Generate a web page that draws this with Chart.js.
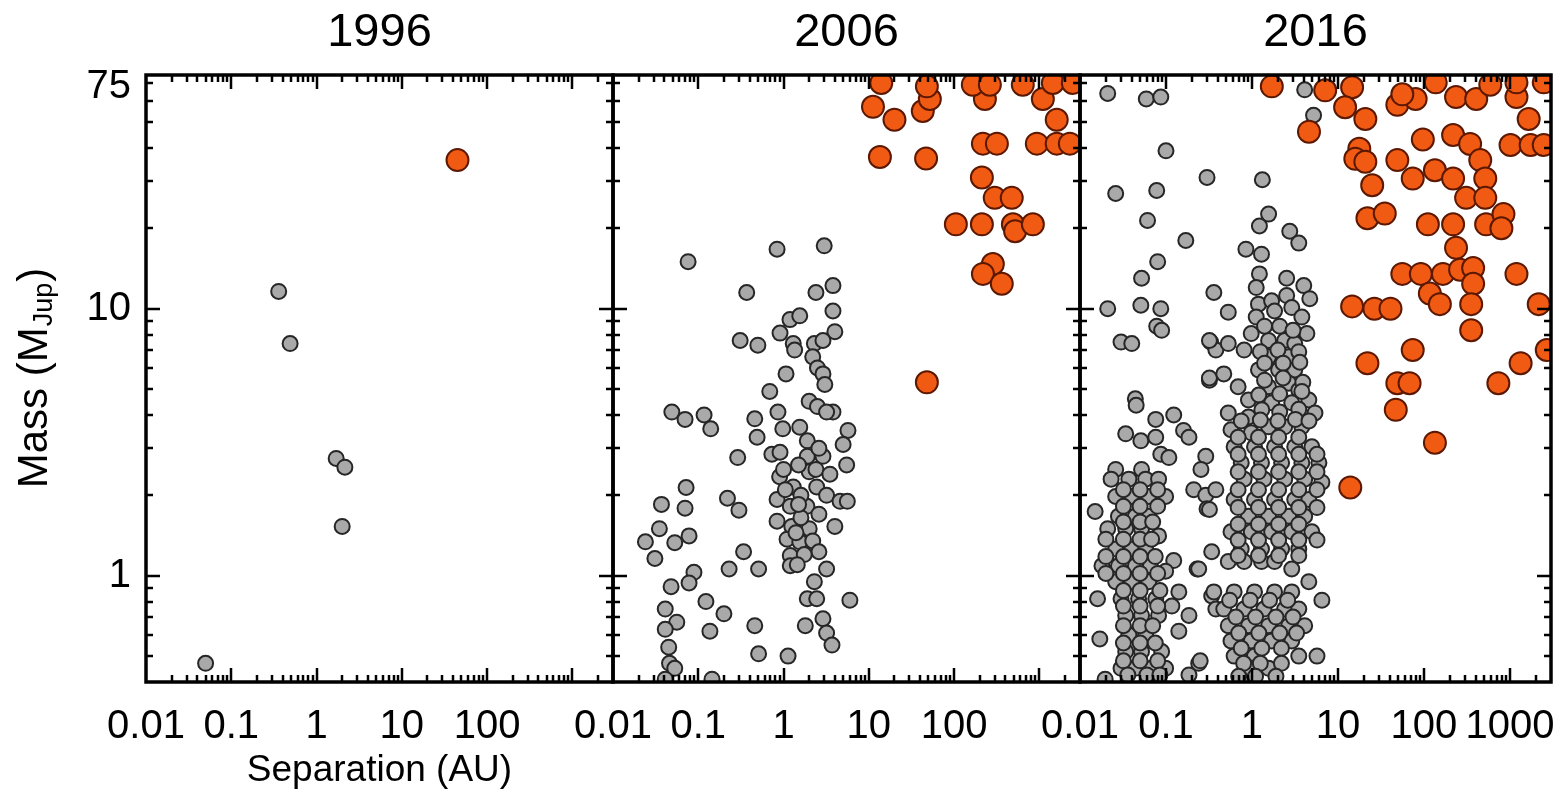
<!DOCTYPE html>
<html>
<head>
<meta charset="utf-8">
<title>Mass vs separation, 1996 / 2006 / 2016</title>
<script src="https://cdn.jsdelivr.net/npm/chart.js@4.4.0/dist/chart.umd.min.js"></script>
<style>
  html, body { margin: 0; padding: 0; background: #fff; }
  #wrap { position: relative; width: 1568px; height: 798px; }
  #wrap canvas { position: absolute; left: 0; top: 0; }
</style>
</head>
<body>
<div id="wrap">
  <canvas id="c1996" width="1568" height="798"></canvas>
  <canvas id="c2006" width="1568" height="798"></canvas>
  <canvas id="c2016" width="1568" height="798"></canvas>
</div>
<script>
// [separation (AU), mass (M_Jup)]
var grey1996 = [[0.05, 0.47], [0.36, 11.6], [0.49, 7.4], [1.7, 2.75], [2.15, 2.55], [2.0, 1.53]];
var orange1996 = [[45, 36]];

var grey2006 = [
  [0.049, 4.1], [0.07, 3.85], [0.117, 4.0], [0.14, 3.55], [0.46, 3.87], [0.49, 3.3], [0.29, 2.77],
  [0.072, 2.14], [0.037, 1.85], [0.07, 1.79], [0.22, 1.95], [0.3, 1.76], [0.035, 1.5], [0.024, 1.34],
  [0.031, 1.16], [0.053, 1.33], [0.078, 1.41], [0.34, 1.23], [0.23, 1.06], [0.51, 1.06], [0.048, 0.91],
  [0.089, 1.03], [0.078, 0.94], [0.123, 0.8], [0.2, 0.72], [0.137, 0.62], [0.041, 0.75], [0.056, 0.67],
  [0.041, 0.63], [0.045, 0.54], [0.046, 0.47], [0.053, 0.45], [0.46, 0.65], [0.51, 0.51], [0.145, 0.41],
  [0.041, 0.41],
  [0.076, 15], [0.84, 16.7], [3.0, 17.2], [0.37, 11.5], [2.4, 11.5], [3.8, 12.2], [3.8, 9.8], [1.19, 9.1],
  [1.55, 9.4], [0.91, 8.1], [0.31, 7.6], [0.5, 7.3], [4.0, 8.2], [1.3, 7.4], [1.35, 7.0], [2.3, 7.4],
  [2.9, 7.6], [2.2, 6.6], [2.5, 6.0], [2.9, 5.7], [1.07, 5.7], [3.05, 5.2], [0.69, 4.9], [2.0, 4.5],
  [2.5, 4.3], [3.8, 4.1], [3.2, 4.1], [0.86, 4.1], [0.98, 3.55], [1.55, 3.6], [1.9, 3.2], [5.7, 3.5],
  [5.0, 3.1], [0.73, 2.85], [0.91, 2.9], [5.5, 2.6], [1.9, 2.8], [2.9, 2.8], [0.9, 2.35], [1.3, 2.15],
  [2.0, 2.45], [2.45, 2.15], [3.2, 2.0], [4.6, 1.9], [5.6, 1.9], [0.84, 1.93], [1.2, 1.82], [1.88, 1.82],
  [0.84, 1.6], [1.25, 1.53], [2.0, 1.5], [4.0, 1.53], [1.1, 1.37], [1.55, 1.34], [2.2, 1.35], [1.2, 1.19],
  [1.2, 1.09], [2.6, 1.23], [3.2, 1.06], [2.3, 0.95], [1.9, 0.82], [2.45, 0.82], [6.0, 0.81], [1.8, 0.65],
  [2.9, 0.69], [3.2, 0.61], [3.7, 0.55], [1.13, 0.5],
  [1.5, 2.6], [1.0, 2.5], [2.4, 2.5], [1.6, 2.0], [1.05, 2.1], [2.6, 1.7], [1.6, 1.65], [1.4, 1.45],
  [1.75, 1.2], [1.45, 1.1], [2.6, 3.0], [3.5, 2.4], [1.5, 1.85]
];
var orange2006 = [
  [14, 70], [11.2, 57], [20, 51], [13.5, 37], [47, 36.5], [43, 55], [52, 61], [48, 68], [230, 61],
  [166, 69], [263, 69], [218, 41.5], [318, 41.5], [935, 41.5], [1600, 41.5], [2280, 41.5], [1100, 61],
  [1600, 51], [640, 69], [1440, 70], [2470, 70], [212, 31], [300, 26], [475, 26], [105, 20.7],
  [212, 20.7], [490, 20.7], [520, 19.5], [840, 20.7], [285, 14.7], [218, 13.5], [363, 12.4], [48, 5.3]
];

var grey2016 = [
  // close-in group, upper scatter
  [0.021, 64], [0.059, 61], [0.087, 62], [0.10, 39], [0.30, 31], [0.026, 27], [0.078, 27.7], [0.061, 21.4],
  [0.17, 18], [0.08, 15], [0.052, 13], [0.021, 10], [0.051, 10.3], [0.087, 10], [0.078, 8.6], [0.089, 8.3],
  [0.03, 7.5], [0.04, 7.4], [0.36, 11.5], [0.33, 7.5], [0.38, 7.0], [0.32, 5.4], [0.044, 4.6],
  [0.045, 4.35], [0.076, 3.85], [0.123, 4.0], [0.16, 3.5], [0.185, 3.3], [0.034, 3.4], [0.051, 3.2],
  [0.076, 3.3], [0.087, 2.85], [0.108, 2.77], [0.29, 2.8], [0.255, 2.5], [0.21, 2.1], [0.29, 2.0], [0.3, 1.78],
  // close-in group, dense column
  [0.026, 2.5], [0.052, 2.5], [0.023, 2.3], [0.037, 2.3], [0.058, 2.3], [0.082, 2.3], [0.026, 1.98],
  [0.04, 1.98], [0.063, 1.98], [0.099, 1.98], [0.015, 1.74], [0.028, 1.67], [0.044, 1.67], [0.063, 1.67],
  [0.021, 1.5], [0.034, 1.5], [0.052, 1.5], [0.082, 1.41], [0.026, 1.26], [0.04, 1.26], [0.058, 1.26],
  [0.018, 1.09], [0.028, 1.09], [0.044, 1.09], [0.066, 1.09], [0.123, 1.14], [0.099, 1.04], [0.026, 0.95],
  [0.04, 0.95], [0.063, 0.95], [0.03, 0.82], [0.048, 0.82], [0.076, 0.82], [0.141, 0.87], [0.117, 0.77],
  [0.034, 0.71], [0.052, 0.71], [0.082, 0.71], [0.185, 0.71], [0.141, 0.62], [0.037, 0.6], [0.058, 0.6],
  [0.034, 0.52], [0.052, 0.52], [0.089, 0.52], [0.03, 0.45], [0.044, 0.45], [0.068, 0.45], [0.099, 0.45],
  [0.24, 0.47], [0.185, 0.425], [0.016, 0.82], [0.017, 0.58], [0.0196, 0.41],
  [0.032, 2.1], [0.05, 2.1], [0.08, 2.1], [0.032, 1.82], [0.05, 1.82], [0.08, 1.82],
  [0.032, 1.59], [0.05, 1.59], [0.07, 1.59], [0.02, 1.37], [0.032, 1.37], [0.05, 1.37], [0.068, 1.37],
  [0.02, 1.18], [0.032, 1.18], [0.05, 1.18], [0.075, 1.18], [0.02, 1.02], [0.032, 1.02], [0.05, 1.02],
  [0.08, 1.02], [0.032, 0.88], [0.05, 0.88], [0.085, 0.88], [0.032, 0.77], [0.05, 0.77], [0.08, 0.77],
  [0.032, 0.65], [0.05, 0.65], [0.07, 0.65], [0.032, 0.56], [0.05, 0.56], [0.075, 0.56],
  [0.032, 0.48], [0.05, 0.48], [0.08, 0.48], [0.036, 0.425], [0.06, 0.425], [0.085, 0.425],
  [0.32, 1.77], [0.34, 1.23], [0.23, 1.06], [0.34, 0.84], [0.38, 0.75],
  // 1 AU group
  [1.32, 30.4], [1.56, 22.6], [1.22, 20.4], [2.75, 19.5], [3.5, 17.6], [0.85, 16.7], [1.29, 16],
  [1.22, 13.5], [1.12, 12], [2.53, 13], [4.0, 12.2], [4.7, 10.9], [0.53, 9.7], [1.19, 10.4], [1.69, 10.7],
  [2.53, 11.2], [1.12, 9.3], [1.83, 9.8], [2.9, 10.1], [3.8, 9.3], [0.98, 8.07], [4.35, 8.07], [0.32, 7.6],
  [0.53, 7.4], [0.81, 7.0], [1.56, 7.6], [2.4, 7.6], [3.14, 7.4], [1.56, 6.6], [2.67, 6.6], [1.19, 5.9],
  [2.04, 5.9], [3.14, 5.9], [0.32, 5.5], [0.47, 5.7], [0.69, 5.1], [0.91, 4.55], [1.56, 5.1], [2.67, 5.26],
  [3.5, 4.95], [1.69, 4.44], [2.9, 4.44], [4.58, 4.55], [5.4, 4.07], [0.53, 4.07], [0.91, 3.93], [0.57, 3.52],
  [0.98, 3.43], [1.56, 3.61], [2.4, 3.61], [3.8, 3.61],
  [1.4, 8.6], [2.1, 8.6], [3.0, 8.3], [1.25, 6.9], [2.0, 7.0], [3.5, 6.9], [1.4, 6.25], [2.3, 6.25],
  [3.6, 6.3], [1.4, 5.4], [2.3, 5.5], [3.9, 5.3], [1.2, 4.75], [2.1, 4.8], [3.8, 4.9], [1.3, 4.18],
  [2.1, 4.1], [3.5, 4.2], [0.75, 3.8], [1.25, 3.83], [2.0, 3.8], [3.2, 3.85], [4.6, 3.8],
  [0.38, 2.1], [0.62, 3.04], [1.07, 3.04], [1.83, 3.04], [3.14, 3.04], [4.97, 3.04], [0.75, 2.65],
  [1.29, 2.65], [2.21, 2.65], [3.8, 2.65], [6.0, 2.65], [0.81, 2.3], [1.38, 2.3], [2.4, 2.3], [4.1, 2.3],
  [6.5, 2.24], [0.62, 1.93], [1.07, 1.93], [1.83, 1.93], [3.14, 1.93], [4.58, 1.93], [0.91, 1.67],
  [1.56, 1.67], [2.67, 1.67], [4.1, 1.67], [0.57, 1.46], [0.98, 1.46], [1.69, 1.46], [2.9, 1.46],
  [4.97, 1.46], [0.75, 1.26], [1.29, 1.26], [2.21, 1.26], [3.5, 1.26], [0.53, 1.13], [0.81, 1.13],
  [1.29, 1.13], [1.83, 1.13],
  [0.69, 3.3], [1.19, 3.3], [2.04, 3.3], [3.5, 3.3], [0.69, 2.85], [1.19, 2.85], [2.04, 2.85], [3.5, 2.85],
  [5.7, 2.85], [0.69, 2.45], [1.19, 2.45], [2.04, 2.45], [3.5, 2.45], [5.7, 2.45], [0.69, 2.1], [1.19, 2.1],
  [2.04, 2.1], [3.5, 2.1], [5.7, 2.1], [0.69, 1.8], [1.19, 1.8], [2.04, 1.8], [3.5, 1.8], [5.7, 1.8],
  [0.69, 1.56], [1.19, 1.56], [2.04, 1.56], [3.5, 1.56], [0.69, 1.36], [1.19, 1.36], [2.04, 1.36],
  [3.5, 1.36], [5.7, 1.36], [0.69, 1.19], [1.19, 1.19], [2.04, 1.19], [3.5, 1.19],
  [0.24, 1.06], [2.9, 1.06], [4.58, 0.95], [0.36, 0.87], [0.62, 0.87],
  [1.07, 0.87], [1.83, 0.87], [2.9, 0.87], [6.5, 0.81], [0.47, 0.75], [0.81, 0.75], [1.38, 0.75],
  [2.4, 0.75], [3.5, 0.75], [0.53, 0.65], [0.91, 0.65], [1.56, 0.65], [2.67, 0.65], [4.1, 0.65],
  [0.57, 0.57], [0.98, 0.57], [1.69, 0.57], [2.9, 0.57], [0.62, 0.5], [1.07, 0.5], [3.5, 0.5], [5.7, 0.5],
  [0.98, 0.45], [1.56, 0.45], [0.25, 0.48],
  [0.55, 0.81], [0.95, 0.81], [1.6, 0.81], [2.6, 0.81], [0.65, 0.7], [1.1, 0.7], [1.9, 0.7], [3.0, 0.7],
  [0.7, 0.61], [1.2, 0.61], [2.1, 0.61], [3.3, 0.61], [0.75, 0.535], [1.3, 0.535], [2.2, 0.535],
  [0.8, 0.47], [1.25, 0.47], [2.2, 0.47], [0.7, 0.42], [1.1, 0.42], [1.9, 0.42],
  [4.1, 66], [5.2, 53]
];
var orange2016 = [
  [1.7, 68], [7.1, 65.7], [14.6, 67.5], [12.1, 56.8], [20.8, 51.3], [4.6, 46], [49, 58], [80, 61], [56, 63.5],
  [17.7, 39.7], [15.9, 36.4], [20.8, 35.5], [25, 29], [22, 21.8], [35, 22.7], [49, 36], [74, 30.7], [97, 43],
  [134, 33], [218, 44.7], [344, 41.4], [218, 30.7], [451, 36], [516, 30.7], [309, 26], [516, 26], [111, 20.7],
  [218, 20.7], [528, 20.7], [840, 22.6], [795, 20], [236, 16.9], [236, 62], [405, 61], [1190, 62],
  [1650, 51.3], [1015, 41], [1740, 41], [2470, 41], [137, 70.4], [590, 69], [1190, 70.4], [2470, 70.4],
  [56, 13.5], [92, 13.5], [166, 13.5], [263, 14], [373, 14.2], [117, 11.4], [153, 10.4], [373, 12.4],
  [354, 10.4], [354, 8.3], [1190, 13.5], [14.6, 10.2], [26.5, 10], [40.8, 10], [2160, 10.4], [74, 7.0],
  [22, 6.25], [49, 5.26], [68, 5.26], [47, 4.18], [134, 3.15], [1330, 6.25], [733, 5.26], [2680, 7.0],
  [13.9, 2.14]
];

var sepTicks = [0.01, 0.1, 1, 10, 100];
var sepTicksLast = [0.01, 0.1, 1, 10, 100, 1000];
var massTicks = [1, 10, 75];

var FONT = "'Liberation Sans', Arial, Helvetica, sans-serif";
var SEP_MIN = 0.01, SEP_MAX = 3000;
var MASS_MIN = 0.4, MASS_MAX = 75;
var GREY = '#a9a9a9', GREY_EDGE = '#262626';
var ORANGE = '#f15a12', ORANGE_EDGE = '#5c1800';

function toPoints(list) {
  return list.map(function (p) { return { x: p[0], y: p[1] }; });
}

// heavy box plus inward log ticks on all four sides
var frameTicks = {
  id: 'frameTicks',
  afterDatasetsDraw: function (chart) {
    var ctx = chart.ctx, a = chart.chartArea;
    var xs = chart.scales.x, ys = chart.scales.y;
    var d, k, v, len;
    ctx.save();
    ctx.strokeStyle = '#000';
    ctx.lineWidth = 2.5;
    ctx.beginPath();
    for (d = -2; d <= 3; d++) {
      for (k = 1; k <= 9; k++) {
        v = k * Math.pow(10, d);
        if (v <= SEP_MIN * 1.001 || v >= SEP_MAX) continue;
        var px = Math.round(xs.getPixelForValue(v));
        len = k === 1 ? 14 : 7;
        ctx.moveTo(px, a.bottom); ctx.lineTo(px, a.bottom - len);
        ctx.moveTo(px, a.top); ctx.lineTo(px, a.top + len);
      }
    }
    for (d = -1; d <= 1; d++) {
      for (k = 1; k <= 9; k++) {
        v = k * Math.pow(10, d);
        if (v <= MASS_MIN || v >= MASS_MAX) continue;
        var py = Math.round(ys.getPixelForValue(v));
        len = k === 1 ? 14 : 7;
        ctx.moveTo(a.left, py); ctx.lineTo(a.left + len, py);
        ctx.moveTo(a.right, py); ctx.lineTo(a.right - len, py);
      }
    }
    ctx.stroke();
    ctx.lineWidth = 3.5;
    ctx.strokeRect(a.left, a.top, a.right - a.left, a.bottom - a.top);
    ctx.restore();
  }
};

// rotated y title with the subscript
var massTitle = {
  id: 'massTitle',
  afterDraw: function (chart) {
    var ctx = chart.ctx;
    var big = '42px ' + FONT, small = '27px ' + FONT;
    ctx.save();
    ctx.translate(35, 378);
    ctx.rotate(-Math.PI / 2);
    ctx.fillStyle = '#000';
    ctx.textBaseline = 'middle';
    ctx.textAlign = 'left';
    ctx.font = big;
    var w1 = ctx.measureText('Mass (M').width, w3 = ctx.measureText(')').width;
    ctx.font = small;
    var w2 = ctx.measureText('Jup').width + 2;
    var x = -(w1 + w2 + w3) / 2;
    ctx.font = big; ctx.fillText('Mass (M', x, 0);
    ctx.font = small; ctx.fillText('Jup', x + w1 + 1, 10);
    ctx.font = big; ctx.fillText(')', x + w1 + w2, 0);
    ctx.restore();
  }
};

function makePanel(id, year, grey, orange, opt) {
  return new Chart(document.getElementById(id), {
    type: 'scatter',
    data: {
      datasets: [
        { data: toPoints(orange), backgroundColor: ORANGE, borderColor: ORANGE_EDGE,
          borderWidth: 2, pointRadius: 11, clip: 0 },
        { data: toPoints(grey), backgroundColor: GREY, borderColor: GREY_EDGE,
          borderWidth: 2, pointRadius: 7.5, clip: 0 }
      ]
    },
    options: {
      responsive: false,
      animation: false,
      devicePixelRatio: 1,
      events: [],
      layout: { padding: { left: opt.left, right: opt.right, top: 0, bottom: 0 } },
      plugins: {
        legend: { display: false },
        tooltip: { enabled: false },
        title: {
          display: true, text: year, fullSize: false, color: '#000',
          font: { family: FONT, size: 47, weight: 'normal', lineHeight: 1 },
          padding: { top: 10, bottom: 18 }
        }
      },
      scales: {
        x: {
          type: 'logarithmic', min: SEP_MIN, max: SEP_MAX,
          grid: { display: false, drawTicks: false },
          border: { display: false },
          afterBuildTicks: function (s) { s.ticks = opt.xTicks.map(function (v) { return { value: v }; }); },
          afterFit: function (s) {
            s.height = 116;
            // labels may hang over the panel edges
            s.paddingLeft = 0;
            s.paddingRight = 0;
          },
          ticks: {
            autoSkip: false, maxRotation: 0, padding: 21, color: '#000',
            font: { family: FONT, size: 40 },
            callback: function (v) { return String(v); }
          },
          title: {
            display: !!opt.xTitle, text: 'Separation (AU)', color: '#000',
            font: { family: FONT, size: 37 }, padding: { top: 0, bottom: 5 }
          }
        },
        y: {
          type: 'logarithmic', min: MASS_MIN, max: MASS_MAX,
          display: !!opt.yLabels,
          grid: { display: false, drawTicks: false },
          border: { display: false },
          afterBuildTicks: function (s) { s.ticks = massTicks.map(function (v) { return { value: v }; }); },
          afterFit: function (s) {
            s.width = opt.yLabels ? 146 : 0;
            s.paddingTop = 0;
            s.paddingBottom = 0;
          },
          ticks: {
            padding: 15, color: '#000',
            font: function (c) {
              // the top label sits just under the frame, pushed down by an empty first line
              var top = c.tick && c.tick.value === MASS_MAX;
              return { family: FONT, size: 40, lineHeight: top ? 0.6 : 1.2 };
            },
            callback: function (v) { return v === MASS_MAX ? ['', String(v)] : String(v); }
          }
        }
      }
    },
    plugins: opt.yLabels ? [frameTicks, massTitle] : [frameTicks]
  });
}

makePanel('c1996', '1996', grey1996, orange1996, { left: 0, right: 955, xTicks: sepTicks, xTitle: true, yLabels: true });
makePanel('c2006', '2006', grey2006, orange2006, { left: 613, right: 488, xTicks: sepTicks });
makePanel('c2016', '2016', grey2016, orange2016, { left: 1080, right: 17, xTicks: sepTicksLast });
</script>
</body>
</html>
